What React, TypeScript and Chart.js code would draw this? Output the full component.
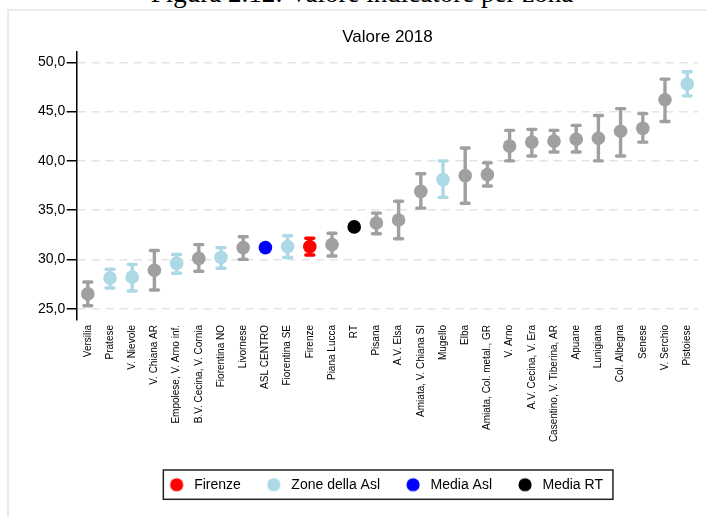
import React, { useEffect, useRef } from "react";
import { Chart, registerables } from "chart.js";

Chart.register(...registerables);

// ---- data ----
const zones = [
  "Versilia", "Pratese", "V. Nievole", "V. Chiana AR", "Empolese, V. Arno inf.",
  "B.V. Cecina, V. Cornia", "Fiorentina NO", "Livornese", "ASL CENTRO", "Fiorentina SE",
  "Firenze", "Piana Lucca", "RT", "Pisana", "A.V. Elsa", "Amiata, V. Chiana SI",
  "Mugello", "Elba", "Amiata, Col. metal., GR", "V. Arno", "A.V. Cecina, V. Era",
  "Casentino, V. Tiberina, AR", "Apuane", "Lunigiana", "Col. Albegna", "Senese",
  "V. Serchio", "Pistoiese",
];
const values = [
  26.5, 28.1, 28.2, 28.9, 29.6, 30.1, 30.2, 31.2, 31.2, 31.3, 31.3, 31.5, 33.3, 33.7,
  34.0, 36.9, 38.1, 38.5, 38.6, 41.5, 41.9, 42.0, 42.2, 42.3, 43.0, 43.3, 46.2, 47.8,
];
const lower = [
  25.3, 27.1, 26.8, 26.9, 28.6, 28.8, 29.1, 30.0, null, 30.2, 30.45, 30.35, null, 32.6,
  32.1, 35.2, 36.3, 35.7, 37.45, 40.0, 40.5, 40.9, 40.9, 40.0, 40.5, 41.9, 44.0, 46.6,
];
const upper = [
  27.7, 29.0, 29.5, 30.9, 30.5, 31.5, 31.2, 32.3, null, 32.4, 32.15, 32.65, null, 34.7,
  35.9, 38.7, 40.0, 41.3, 39.8, 43.1, 43.2, 43.1, 43.6, 44.6, 45.3, 44.8, 48.3, 49.05,
];
const groups = [
  "altre", "asl", "asl", "altre", "asl", "altre", "asl", "altre", "mediaAsl", "asl",
  "firenze", "altre", "mediaRT", "altre", "altre", "altre", "asl", "altre", "altre",
  "altre", "altre", "altre", "altre", "altre", "altre", "altre", "altre", "asl",
];
const seriesKeys = ["altre", "firenze", "asl", "mediaAsl", "mediaRT"];
const seriesNames = ["Altre zone", "Firenze", "Zone della Asl", "Media Asl", "Media RT"];
const yTicks = [25, 30, 35, 40, 45, 50];
const yMin = 23.85;
const yMax = 51.08;
const chartTitle = "Valore 2018";
const figureCaption = "Figura 2.12: Valore indicatore per zona";

// ---- styles ----
const colors: Record<string, string> = {
  altre: "#a0a0a0",
  firenze: "#ff0000",
  asl: "#add8e6",
  mediaAsl: "#0000ff",
  mediaRT: "#000000",
};
const FONT = "'Liberation Sans', Arial, sans-serif";
const POINT_R = 6.8;

function makeLegendImage(color: string) {
  const c = document.createElement("canvas");
  c.width = 30;
  c.height = 16;
  const g = c.getContext("2d")!;
  g.fillStyle = color;
  g.beginPath();
  g.arc(12.05, 8, 6.6, 0, Math.PI * 2);
  g.fill();
  return c;
}

const errorBarsPlugin = {
  id: "errorBars",
  beforeDatasetsDraw(chart: any) {
    const { ctx } = chart;
    const xs = chart.scales.x;
    const ys = chart.scales.y;
    ctx.save();
    ctx.lineCap = "round";
    ctx.lineWidth = 3.4;
    zones.forEach((_, i) => {
      const lo = lower[i];
      const hi = upper[i];
      if (lo == null || hi == null) return;
      const px = xs.getPixelForValue(i);
      const pLo = ys.getPixelForValue(lo);
      const pHi = ys.getPixelForValue(hi);
      ctx.strokeStyle = colors[groups[i]];
      ctx.beginPath();
      ctx.moveTo(px, pLo);
      ctx.lineTo(px, pHi);
      ctx.moveTo(px - 4, pLo);
      ctx.lineTo(px + 4, pLo);
      ctx.moveTo(px - 4, pHi);
      ctx.lineTo(px + 4, pHi);
      ctx.stroke();
    });
    ctx.restore();
  },
};

const legendFramePlugin = {
  id: "legendFrame",
  afterDraw(chart: any) {
    const lg = chart.legend;
    if (!lg || !lg.legendHitBoxes || !lg.legendHitBoxes.length) return;
    const hb = lg.legendHitBoxes;
    const first = hb[0];
    const last = hb[hb.length - 1];
    const cy = first.top + 7;
    const left = first.left - 8.7;
    const right = last.left + last.width + 10;
    const { ctx } = chart;
    ctx.save();
    ctx.strokeStyle = "#222";
    ctx.lineWidth = 1.5;
    ctx.strokeRect(left, cy - 14.7, right - left, 29.3);
    ctx.restore();
  },
};

export default function App() {
  const ref = useRef<HTMLCanvasElement | null>(null);

  useEffect(() => {
    if (!ref.current) return;
    const images: Record<string, HTMLCanvasElement> = {};
    seriesKeys.forEach((k) => (images[k] = makeLegendImage(colors[k])));

    const datasets = seriesKeys.map((k, si) => ({
      label: seriesNames[si],
      data: values.map((v, i) => (groups[i] === k ? v : null)),
      showLine: false,
      pointRadius: POINT_R,
      pointHoverRadius: POINT_R,
      pointBorderWidth: 0,
      pointBackgroundColor: colors[k],
      backgroundColor: colors[k],
      borderColor: colors[k],
    }));

    const chart = new Chart(ref.current, {
      type: "line",
      data: { labels: zones, datasets },
      plugins: [errorBarsPlugin, legendFramePlugin],
      options: {
        animation: false,
        responsive: false,
        events: [],
        layout: { padding: { top: 0, left: 0, right: 7.7, bottom: 15.3 } },
        scales: {
          x: {
            type: "category",
            offset: true,
            afterFit: (s: any) => {
              s.height = 129.3;
            },
            grid: { display: false, drawTicks: false },
            border: { display: false },
            ticks: {
              autoSkip: false,
              minRotation: 90,
              maxRotation: 90,
              padding: 5,
              color: "#000",
              font: { family: FONT, size: 10 },
            },
          },
          y: {
            min: yMin,
            max: yMax,
            afterFit: (s: any) => {
              s.width = 67.7;
            },
            afterBuildTicks: (s: any) => {
              s.ticks = yTicks.map((v) => ({ value: v }));
            },
            grid: {
              color: "#e4e4e4",
              lineWidth: 1.5,
              drawTicks: true,
              tickLength: 10,
              tickColor: "#000",
              tickWidth: 1.5,
            },
            border: { display: true, color: "#000", width: 1.5, dash: [8, 6] },
            ticks: {
              padding: 1.5,
              color: "#000",
              font: { family: FONT, size: 14 },
              callback: (v: any) => Number(v).toFixed(1).replace(".", ","),
            },
          },
        },
        plugins: {
          tooltip: { enabled: false },
          title: {
            display: true,
            text: chartTitle,
            fullSize: false,
            color: "#000",
            font: { family: FONT, size: 17, weight: "normal" },
            padding: { top: 16.3, bottom: 4 },
          },
          legend: {
            display: true,
            position: "bottom",
            fullSize: false,
            align: "center",
            labels: {
              usePointStyle: true,
              pointStyleWidth: 15.1,
              boxHeight: 14,
              padding: 28.4,
              color: "#000",
              font: { family: FONT, size: 14 },
              generateLabels: (c: any) => {
                const items = (Chart.defaults.plugins.legend.labels as any).generateLabels(c);
                return items
                  .filter((it: any) => it.datasetIndex !== 0)
                  .map((it: any) => ({
                    ...it,
                    pointStyle: images[seriesKeys[it.datasetIndex]],
                    fontColor: "#000",
                  }));
              },
            },
          },
        },
      } as any,
    });
    return () => chart.destroy();
  }, []);

  return (
    <div
      style={{
        position: "fixed",
        left: 0,
        top: 0,
        width: 706,
        height: 517,
        overflow: "hidden",
        background: "#fff",
      }}
    >
      <div
        style={{
          position: "absolute",
          left: 0,
          top: -20.1,
          width: 724,
          textAlign: "center",
          fontFamily: "'Liberation Serif', 'Times New Roman', serif",
          fontSize: 27,
          lineHeight: "27px",
          color: "#000",
          whiteSpace: "nowrap",
        }}
      >
        {figureCaption}
      </div>
      <div
        style={{
          position: "absolute",
          left: 7,
          top: 9,
          width: 760,
          height: 560,
          borderLeft: "2px solid #e6edf1",
          borderTop: "2px solid #e6edf1",
        }}
      />
      <canvas
        ref={ref}
        width={697}
        height={506}
        style={{ position: "absolute", left: 9, top: 11, width: 697, height: 506 }}
      />
    </div>
  );
}
